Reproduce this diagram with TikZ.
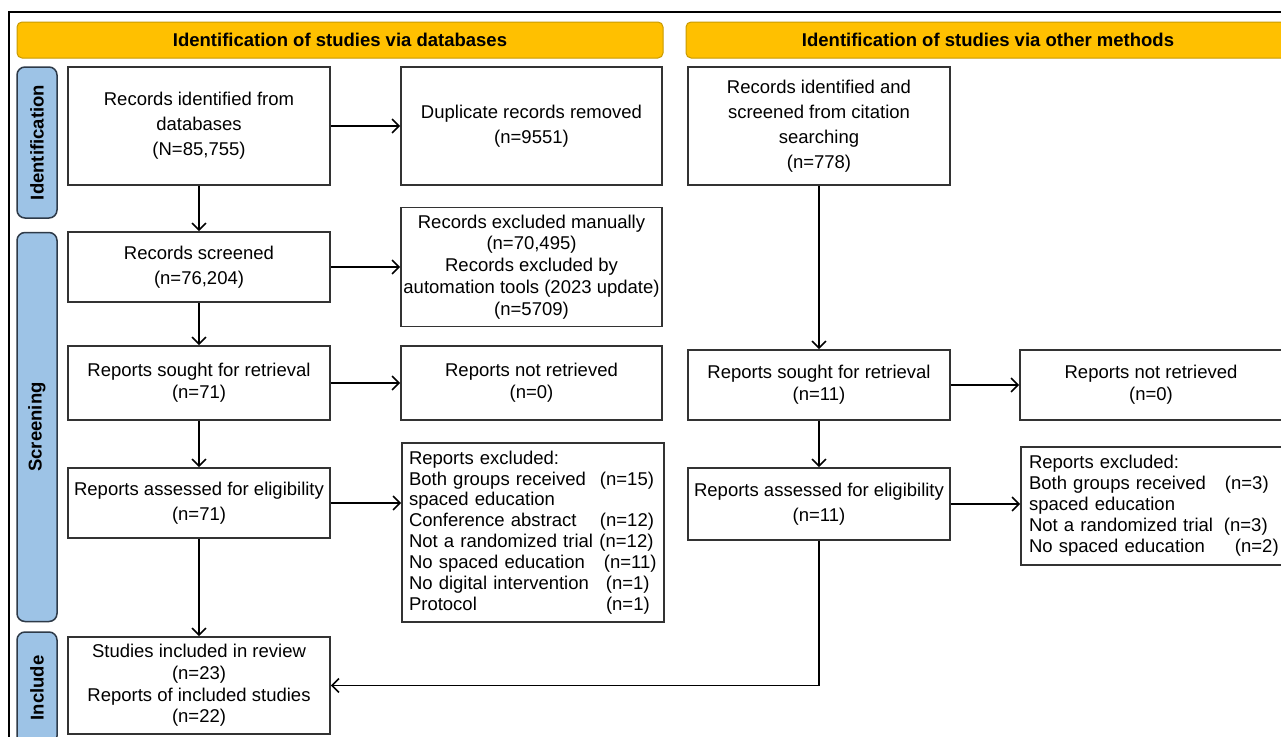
\documentclass[tikz,border=0pt]{standalone}
\usepackage{fontspec}
\setmainfont{Liberation Sans}
\usetikzlibrary{arrows.meta}
\definecolor{ybar}{HTML}{FFC000}
\definecolor{ybord}{HTML}{C99A00}
\definecolor{tabfill}{HTML}{9DC3E6}
\definecolor{tabbord}{HTML}{2E3A48}
\definecolor{boxline}{HTML}{333333}
\tikzset{
  box/.style={draw=boxline, line width=1.6pt, fill=white, inner sep=0pt, align=center,
    font=\fontsize{18.5}{25}\selectfont},
  tight/.style={font=\fontsize{18.5}{21.8}\selectfont},
  listbox/.style={draw=boxline, line width=1.6pt, fill=white, inner xsep=7pt, inner ysep=0pt,
    align=left, font=\fontsize{18.5}{20.9}\selectfont},
  hdr/.style={draw=ybord, line width=1pt, fill=ybar, rounded corners=5pt, inner sep=0pt,
    font=\fontsize{18.5}{21}\selectfont\bfseries},
  tabbox/.style={draw=tabbord, line width=1.5pt, fill=tabfill, rounded corners=8pt, inner sep=0pt,
    rotate=90, font=\fontsize{18.5}{21}\selectfont\bfseries},
  arr/.style={line width=1.7pt, -{Straight Barb[length=7pt,width=14pt,line width=1.6pt]}},
}
\newcommand{\lbl}[2]{\makebox[#1][l]{#2}}
\begin{document}
\begin{tikzpicture}[x=1pt,y=-1pt]
\useasboundingbox (0,0) rectangle (1281,736);
\clip (0,0) rectangle (1281,736);
\fill[white] (0,0) rectangle (1281,736);

% outer frame
\draw[line width=1.6pt, black] (9,760) -- (9,12) -- (1300,12);

% headers
\node[hdr, minimum width=646pt, minimum height=36pt] (h1) at (340,40) {Identification of studies via databases};
\node[hdr, minimum width=604pt, minimum height=36pt] (h2) at (988,40) {Identification of studies via other methods};

% side tabs
\node[tabbox, minimum width=151pt, minimum height=40pt] (t1) at (37,142.5) {Identification};
\node[tabbox, minimum width=389pt, minimum height=40pt] (t2) at (37,427) {Screening};
\node[tabbox, minimum width=112pt, minimum height=40pt] (t3) at (37,688) {Include};

% left column
\node[box, minimum width=262pt, minimum height=118pt] (A) at (199,126) {Records identified from\\databases\\(N=85,755)};
\node[box, minimum width=261pt, minimum height=118pt] (B) at (531.5,126) {Duplicate records removed\\(n=9551)};
\node[box, minimum width=262pt, minimum height=70pt] (C) at (199,267) {Records screened\\(n=76,204)};
\node[box, tight, minimum width=261pt, minimum height=119pt] (D) at (531.5,267) {Records excluded manually\\(n=70,495)\\Records excluded by\\automation tools (2023 update)\\(n=5709)};
\node[box, tight, minimum width=262pt, minimum height=74pt] (E) at (199,383) {Reports sought for retrieval\\(n=71)};
\node[box, tight, minimum width=261pt, minimum height=74pt] (F) at (531.5,383) {Reports not retrieved\\(n=0)};
\node[box, minimum width=262pt, minimum height=70pt] (G) at (199,503) {Reports assessed for eligibility\\(n=71)};
\node[listbox, text width=248pt, minimum height=179pt] (H) at (533,532.5) {Reports excluded:\\
\lbl{191pt}{Both groups received}(n=15)\\
spaced education\\
\lbl{191pt}{Conference abstract}(n=12)\\
\lbl{190.5pt}{Not a randomized trial}(n=12)\\
\lbl{195pt}{No spaced education}(n=11)\\
\lbl{197pt}{No digital intervention}(n=1)\\
\lbl{197pt}{Protocol}(n=1)};
\node[box, tight, minimum width=262pt, minimum height=97pt] (I) at (199,685.5) {Studies included in review\\(n=23)\\Reports of included studies\\(n=22)};

% right column
\node[box, minimum width=262pt, minimum height=118pt] (J) at (819,126) {Records identified and\\screened from citation\\searching\\(n=778)};
\node[box, tight, minimum width=262pt, minimum height=70pt] (K) at (819,385) {Reports sought for retrieval\\(n=11)};
\node[box, tight, minimum width=262pt, minimum height=70pt] (L) at (1151,385) {Reports not retrieved\\(n=0)};
\node[box, minimum width=262pt, minimum height=72pt] (M) at (819,504) {Reports assessed for eligibility\\(n=11)};
\node[listbox, inner xsep=8pt, text width=250pt, minimum height=118pt] (N) at (1154,506) {Reports excluded:\\
\lbl{196pt}{Both groups received}(n=3)\\
spaced education\\
\lbl{195pt}{Not a randomized trial}(n=3)\\
\lbl{206pt}{No spaced education}(n=2)};

\coordinate (bend) at (M.south |- I.east);

% connectors
\draw[arr] (A) -- (B);
\draw[arr] (A) -- (C);
\draw[arr] (C) -- (D);
\draw[arr] (C) -- (E);
\draw[arr] (E) -- (F);
\draw[arr] (E) -- (G);
\draw[arr] (G) -- (H.west |- G.east);
\draw[arr] (G) -- (I);
\draw[arr] (J) -- (K);
\draw[arr] (K) -- (L);
\draw[arr] (K) -- (M);
\draw[arr] (M) -- (N.west |- M.east);
\draw[arr] (M.south) -- (bend) -- (I.east);
\end{tikzpicture}
\end{document}
